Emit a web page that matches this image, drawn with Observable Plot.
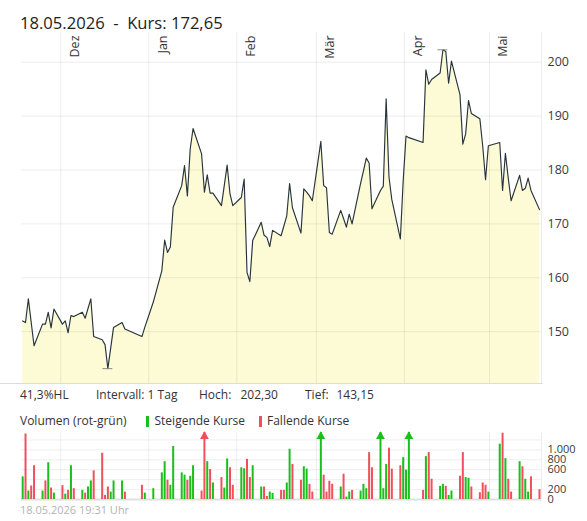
<!DOCTYPE html>
<html><head><meta charset="utf-8">
<script src="https://cdn.jsdelivr.net/npm/d3@7"></script>
<script src="https://cdn.jsdelivr.net/npm/@observablehq/plot@0.6"></script>
<style>
body{margin:0;background:#fff;font-family:"Open Sans",sans-serif;}
#wrap{position:relative;width:587px;height:521px;overflow:hidden;background:#fff;}
.t{position:absolute;white-space:pre;color:#333;font-size:12px;line-height:14px;}
.sw{position:absolute;width:3px;height:11px;}
#price,#volume{position:absolute;left:0;}
#price{top:30px;} #volume{top:428px;}
</style></head><body><div id="wrap">
<div class="t" style="left:20px;top:12.5px;font-size:16.6px;line-height:20px;color:#1e1e1e">18.05.2026  -  Kurs: 172,65</div>
<div id="price"></div>
<div class="t" style="left:20px;top:388px">41,3%HL</div>
<div class="t" style="left:96px;top:388px">Intervall: 1 Tag</div>
<div class="t" style="left:199px;top:388px">Hoch:</div>
<div class="t" style="left:240.5px;top:388px">202,30</div>
<div class="t" style="left:305px;top:388px">Tief:</div>
<div class="t" style="left:336.5px;top:388px">143,15</div>
<div class="t" style="left:20px;top:414px">Volumen (rot-grün)</div>
<div class="sw" style="left:146px;top:416px;background:#19c019"></div>
<div class="t" style="left:154.5px;top:414px">Steigende Kurse</div>
<div class="sw" style="left:259px;top:416px;background:#f0505c"></div>
<div class="t" style="left:267px;top:414px">Fallende Kurse</div>
<div id="volume"></div>
<div class="t" style="left:20px;top:502.5px;font-size:11px;line-height:13px;color:#b3b3b3">18.05.2026 19:31 Uhr</div>
</div>
<script>
// ---- data ----
const priceDates = ["2025-11-17","2025-11-18","2025-11-19","2025-11-21","2025-11-24","2025-11-25","2025-11-26","2025-11-27","2025-11-28",
"2025-12-01","2025-12-02","2025-12-03","2025-12-04","2025-12-05","2025-12-08","2025-12-09","2025-12-11","2025-12-12","2025-12-15","2025-12-16","2025-12-17","2025-12-19","2025-12-22","2025-12-23","2025-12-29","2025-12-30",
"2026-01-02","2026-01-05","2026-01-06","2026-01-07","2026-01-08","2026-01-09","2026-01-12","2026-01-13","2026-01-14","2026-01-15","2026-01-16","2026-01-19","2026-01-20","2026-01-21","2026-01-22","2026-01-23","2026-01-26","2026-01-28","2026-01-29","2026-01-30",
"2026-02-02","2026-02-03","2026-02-04","2026-02-05","2026-02-06","2026-02-09","2026-02-10","2026-02-11","2026-02-12","2026-02-13","2026-02-16","2026-02-18","2026-02-19","2026-02-20","2026-02-23","2026-02-24","2026-02-25","2026-02-26","2026-02-27",
"2026-03-02","2026-03-03","2026-03-04","2026-03-05","2026-03-06","2026-03-09","2026-03-10","2026-03-11","2026-03-12","2026-03-13","2026-03-16","2026-03-17","2026-03-18","2026-03-19","2026-03-20","2026-03-23","2026-03-24","2026-03-25","2026-03-26","2026-03-27","2026-03-30","2026-03-31",
"2026-04-01","2026-04-02","2026-04-07","2026-04-08","2026-04-09","2026-04-10","2026-04-13","2026-04-14","2026-04-15","2026-04-16","2026-04-17","2026-04-20","2026-04-21","2026-04-22","2026-04-23","2026-04-24","2026-04-27","2026-04-28","2026-04-29","2026-04-30",
"2026-05-04","2026-05-05","2026-05-06","2026-05-07","2026-05-08","2026-05-11","2026-05-12","2026-05-13","2026-05-14","2026-05-15","2026-05-18"];
const priceClose = [152.0,151.7,156.1,147.4,151.4,151.4,153.6,150.7,154.2,
151.4,152.0,149.8,153.0,152.8,153.6,152.5,156.1,149.1,148.5,147.6,143.15,150.8,151.7,150.5,149.1,150.8,
155.5,161.3,167.0,164.7,165.7,173.1,177.1,180.8,175.2,183.9,187.7,183.0,175.9,179.1,175.7,175.7,173.4,180.9,175.6,173.4,
174.9,178.3,161.0,159.3,166.9,170.3,167.9,167.5,165.8,168.8,167.8,171.5,177.5,173.0,168.3,176.5,175.9,175.2,174.3,
185.3,177.1,176.7,168.4,168.1,172.5,171.0,169.4,171.8,170.0,177.5,179.8,182.2,181.3,172.8,176.2,177.0,193.2,178.7,174.5,167.2,178.0,
186.3,186.0,185.1,198.6,195.9,196.8,198.0,202.3,202.0,196.1,200.2,194.0,184.8,186.7,192.9,190.5,189.5,184.5,178.2,184.5,
185.1,176.2,183.1,178.5,174.3,179.0,176.2,176.6,178.5,176.2,172.65];

const volDates = ["2025-11-17","2025-11-18","2025-11-19","2025-11-20","2025-11-21","2025-11-24","2025-11-25","2025-11-26","2025-11-27","2025-11-28",
"2025-12-01","2025-12-02","2025-12-03","2025-12-04","2025-12-05","2025-12-08","2025-12-09","2025-12-10","2025-12-11","2025-12-12","2025-12-15","2025-12-16","2025-12-17","2025-12-18","2025-12-19","2025-12-22","2025-12-23","2025-12-29","2025-12-30",
"2026-01-02","2026-01-05","2026-01-06","2026-01-07","2026-01-08","2026-01-09","2026-01-12","2026-01-13","2026-01-14","2026-01-15","2026-01-16","2026-01-19","2026-01-20","2026-01-21","2026-01-22","2026-01-23","2026-01-26","2026-01-27","2026-01-28","2026-01-29","2026-01-30",
"2026-02-02","2026-02-03","2026-02-04","2026-02-05","2026-02-06","2026-02-09","2026-02-10","2026-02-11","2026-02-12","2026-02-13","2026-02-16","2026-02-17","2026-02-18","2026-02-19","2026-02-20","2026-02-23","2026-02-24","2026-02-25","2026-02-26","2026-02-27",
"2026-03-02","2026-03-03","2026-03-04","2026-03-05","2026-03-06","2026-03-09","2026-03-10","2026-03-11","2026-03-12","2026-03-13","2026-03-16","2026-03-17","2026-03-18","2026-03-19","2026-03-20","2026-03-23","2026-03-24","2026-03-25","2026-03-26","2026-03-27","2026-03-30","2026-03-31",
"2026-04-01","2026-04-02","2026-04-07","2026-04-08","2026-04-09","2026-04-10","2026-04-13","2026-04-14","2026-04-15","2026-04-16","2026-04-17","2026-04-20","2026-04-21","2026-04-22","2026-04-23","2026-04-24","2026-04-27","2026-04-28","2026-04-29","2026-04-30",
"2026-05-04","2026-05-05","2026-05-06","2026-05-07","2026-05-08","2026-05-11","2026-05-12","2026-05-13","2026-05-14","2026-05-15","2026-05-18"];
const volAmount = [456,1320,170,272,680,170,374,741,231,129,
279,109,184,680,218,184,129,252,374,578,932,82,252,150,374,374,150,286,129,
218,537,762,388,286,1068,537,490,388,469,680,170,1600,762,605,333,442,231,816,639,286,
639,619,809,442,680,252,252,61,150,122,184,184,333,1013,707,388,660,612,306,150,
1600,490,150,367,306,252,510,48,150,184,170,306,218,945,639,1600,218,707,1034,612,680,843,
592,1600,184,864,945,408,265,306,265,82,170,469,945,442,428,252,136,333,286,150,
1115,1335,823,408,150,762,660,408,150,456,197];
const volDir = ["up","down","up","down","down","up","down","up","down","up",
"down","up","down","up","down","up","down","up","up","down","down","down","down","up","up","up","down","down","up",
"up","up","up","down","up","up","up","up","down","up","up","down","down","up","down","up","down","up","up","down","down",
"up","up","down","down","up","up","down","down","up","up","down","down","up","up","down","down","up","up","down","down",
"up","down","down","down","down","up","down","up","up","down","up","up","up","down","down","up","up","up","down","down","down","up",
"up","up","down","up","down","down","up","up","down","up","up","down","down","up","up","down","down","down","down","up",
"up","down","up","down","down","up","down","up","up","down","down"];

const monthStarts = ["2025-12-01","2026-01-01","2026-02-01","2026-03-01","2026-04-01","2026-05-01"];
const monthNames = ["Dez","Jan","Feb","Mär","Apr","Mai"];
const priceTicks = [150,160,170,180,190,200];
const volTicks = [0,200,600,800,1000];
const volGridValues = [200,400,600,800,1000,1200];

// ---- scales / setup ----
const xDomain = [new Date(Date.UTC(2025,10,17,4)), new Date(Date.UTC(2026,4,19,7))];
const yDomain = [140.39, 205.51];
const vDomain = [0, 1350];
const SESSION = 14 * 3600e3; // position of a trading day inside its calendar day
const parse = d3.utcParse("%Y-%m-%d");
const price = priceDates.map((d,i) => ({date: new Date(+parse(d) + SESSION), close: priceClose[i]}));
const volume = volDates.map((d,i) => ({date: new Date(+parse(d) + SESSION), v: volAmount[i], dir: volDir[i]}));
const months = monthStarts.map((d,i) => ({date: parse(d), name: monthNames[i]}));
const gridX = [...months.map(d => d.date), xDomain[1]];
const GREEN = "#19c019", RED = "#f0505c";
const colorOf = d => d.dir === "up" ? GREEN : RED;
const hi = d3.greatest(price, d => d.close), lo = d3.least(price, d => d.close);
const common = {width: 587, marginLeft: 21, marginRight: 46,
  style: {fontFamily: "Open Sans", fontSize: "12px", color: "#3a3a3a", background: "transparent", overflow: "visible"}};

const pricePlot = Plot.plot({
  ...common, height: 356, marginTop: 2, marginBottom: 3,
  x: {type: "utc", domain: xDomain, axis: null},
  y: {domain: yDomain},
  marks: [
    Plot.areaY(price, {x: "date", y1: yDomain[0], y2: "close", fill: "#fdfad6"}),
    Plot.ruleY(priceTicks, {stroke: "#000", strokeOpacity: 0.075}),
    Plot.ruleX(gridX, {stroke: "#000", strokeOpacity: 0.075}),
    Plot.ruleY([yDomain[0]], {stroke: "#dcdcdc", x2: new Date(+xDomain[1] + 0.7*86400e3)}),
    Plot.lineY(price, {x: "date", y: "close", stroke: "#26343b", strokeWidth: 1.15}),
    Plot.ruleY([hi, lo], {y: "close", x1: d => new Date(+d.date - 42*3600e3), x2: d => new Date(+d.date + 42*3600e3), stroke: "#8a8a8a"}),
    Plot.text(months, {x: "date", text: "name", frameAnchor: "top", rotate: -90, textAnchor: "end", dx: 9, dy: 3, fontSize: 12.5, fill: "#333"}),
    Plot.axisY({anchor: "right", ticks: priceTicks, tickSize: 0, tickPadding: 6, fontSize: 12.5, label: null})
  ]
});
document.getElementById("price").append(pricePlot);

const thousands = v => d3.format(",")(v).replace(/,/g, ".");
const volumePlot = Plot.plot({
  ...common, height: 73, marginTop: 4, marginBottom: 2,
  x: {type: "utc", domain: xDomain, axis: null},
  y: {domain: vDomain},
  color: {type: "identity"},
  marks: [
    Plot.ruleY(volGridValues, {stroke: "#000", strokeOpacity: 0.07}),
    Plot.ruleX(gridX, {stroke: "#000", strokeOpacity: 0.07}),
    Plot.ruleY([0], {stroke: "#e0e0e0", strokeWidth: 2}),
    Plot.ruleX(volume, {x: "date", y1: 0, y2: d => Math.min(d.v, vDomain[1]), stroke: colorOf, strokeWidth: 2}),
    Plot.dot(volume.filter(d => d.v > vDomain[1]), {x: "date", y: vDomain[1], symbol: "triangle", r: 3.3, dy: 4, fill: colorOf, stroke: "none"}),
    Plot.axisY({anchor: "right", ticks: volTicks, tickSize: 0, tickPadding: 6, fontSize: 11, tickFormat: thousands, label: null})
  ]
});
document.getElementById("volume").append(volumePlot);
</script>
</body></html>
